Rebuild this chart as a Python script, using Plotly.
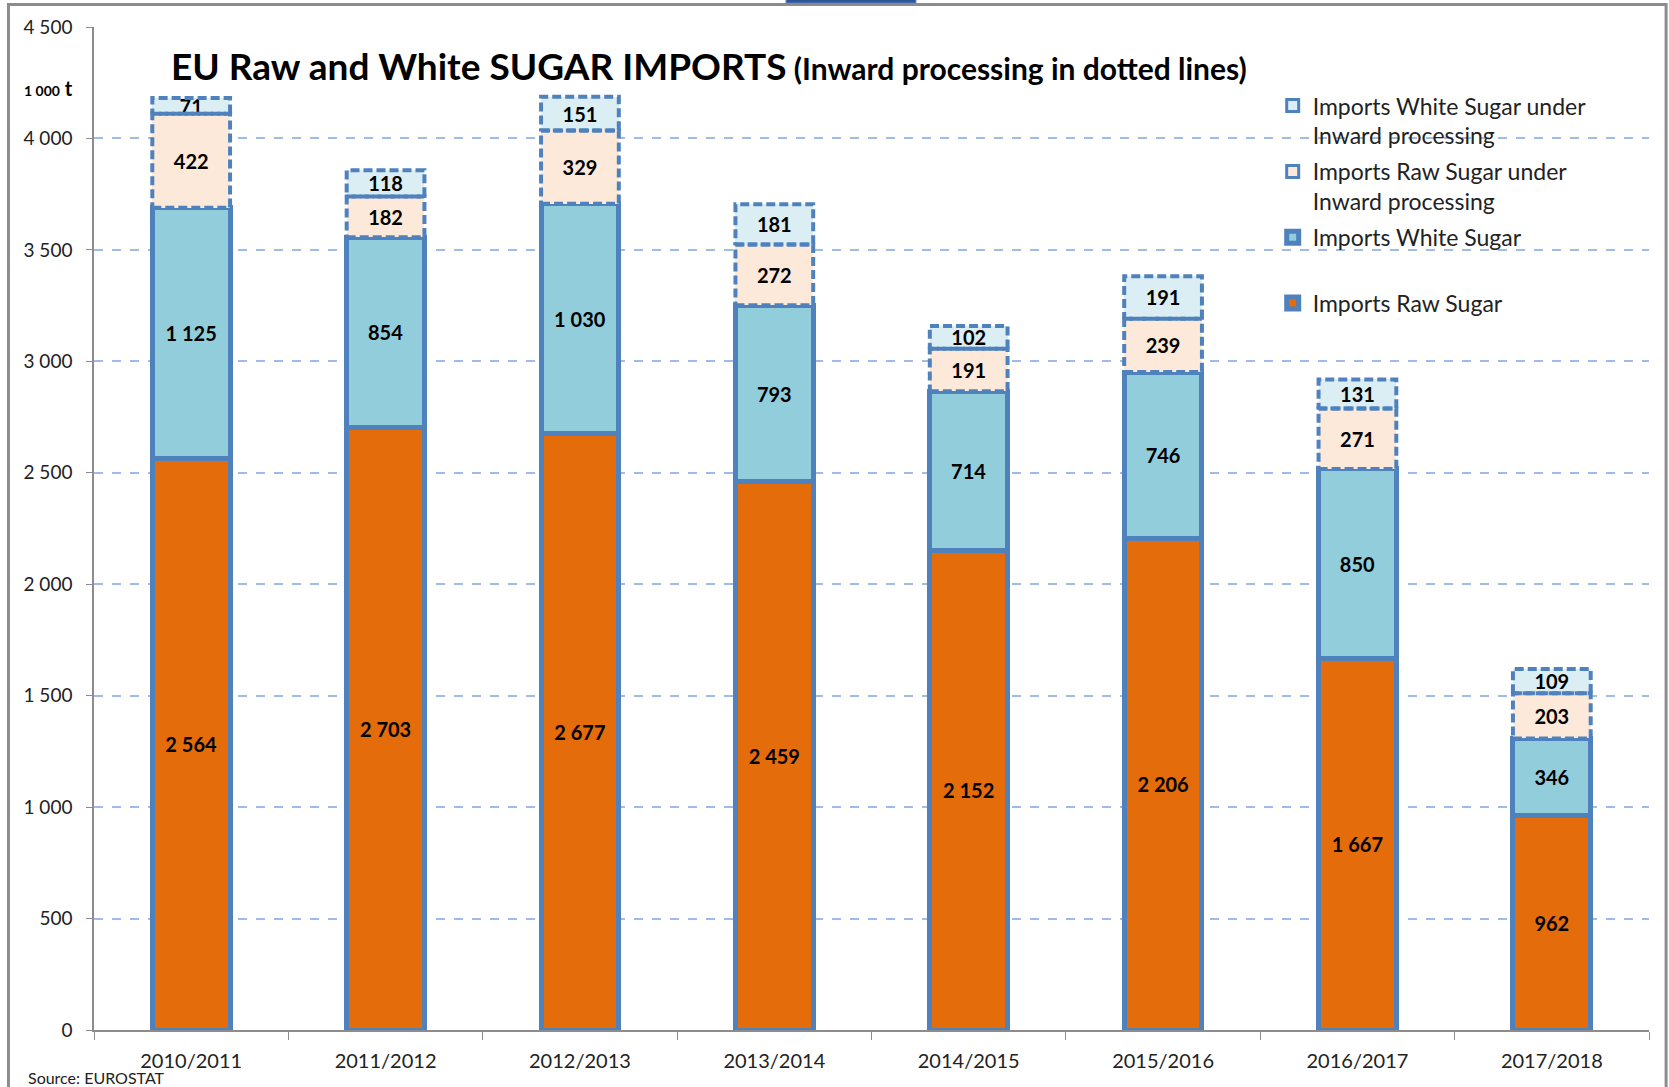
import plotly.graph_objects as go

# Marketing years and import volumes (1 000 t).
years = ["2010/2011", "2011/2012", "2012/2013", "2013/2014",
         "2014/2015", "2015/2016", "2016/2017", "2017/2018"]
raw_sugar = [2564, 2703, 2677, 2459, 2152, 2206, 1667, 962]
white_sugar = [1125, 854, 1030, 793, 714, 746, 850, 346]
raw_inward = [422, 182, 329, 272, 191, 239, 271, 203]
white_inward = [71, 118, 151, 181, 102, 191, 131, 109]

y_ticks = [0, 500, 1000, 1500, 2000, 2500, 3000, 3500, 4000, 4500]

_FONT = "Lato, 'Open Sans', sans-serif"
_BORDER = "#4F81BD"
_ORANGE = "#E46C0A"
_LIGHT_BLUE = "#92CDDC"
_PEACH = "#FDE9D9"
_PALE_BLUE = "#DAEEF3"
_BAR_W = 0.40

xs = list(range(len(years)))
fig = go.Figure()


def add_bar(name, values, base, fill, solid, rank):
    fig.add_trace(
        go.Bar(
            x=xs,
            y=values,
            base=base,
            width=_BAR_W,
            name=name,
            legendgroup=name,
            legendrank=rank,
            showlegend=solid,
            marker={
                "color": fill,
                "line": {"color": _BORDER, "width": 5 if solid else 0},
            },
            texttemplate="<b>%{y:,d}</b>",
            textposition="inside",
            insidetextanchor="middle",
            constraintext="none",
            textangle=0,
            textfont={"family": _FONT, "size": 20, "color": "black"},
        )
    )


base_white = raw_sugar
base_raw_ip = [r + w for r, w in zip(raw_sugar, white_sugar)]
base_white_ip = [b + p for b, p in zip(base_raw_ip, raw_inward)]

add_bar("Imports Raw Sugar", raw_sugar, [0] * len(xs), _ORANGE, True, 4)
add_bar("Imports White Sugar<br>&nbsp;", white_sugar, base_white, _LIGHT_BLUE, True, 3)
add_bar("raw_ip", raw_inward, base_raw_ip, _PEACH, False, 10)
add_bar("white_ip", white_inward, base_white_ip, _PALE_BLUE, False, 10)

# Dashed outlines for the inward-processing segments (bar lines can't dash).
rx, ry = [], []
for i, b0, v0, b1, v1 in zip(xs, base_raw_ip, raw_inward, base_white_ip, white_inward):
    for lo, hi in ((b0, b0 + v0), (b1, b1 + v1)):
        x0, x1 = i - _BAR_W / 2, i + _BAR_W / 2
        rx += [x0, x1, x1, x0, x0, None]
        ry += [lo, lo, hi, hi, lo, None]
fig.add_trace(
    go.Scatter(
        x=rx, y=ry, mode="lines",
        line={"color": _BORDER, "width": 4, "dash": "9px,4px"},
        showlegend=False, hoverinfo="skip",
    )
)

# Legend-only entries for the dashed series, so their swatch gets a border.
for name, fill, rank in (("Imports Raw Sugar under<br>Inward processing", _PEACH, 2),
                         ("Imports White Sugar under<br>Inward processing", _PALE_BLUE, 1)):
    fig.add_trace(
        go.Bar(x=[None], y=[None], name=name, legendgroup=name, legendrank=rank,
               marker={"color": fill, "line": {"color": _BORDER, "width": 3}})
    )

fig.add_annotation(
    xref="paper", yref="paper", x=0.048, y=0.962, xanchor="left", yanchor="middle",
    text="<b>EU Raw and White SUGAR IMPORTS</b>"
         "<b><span style='font-size:30px'> (Inward processing in dotted lines)</span></b>",
    showarrow=False, font={"family": _FONT, "size": 37, "color": "black"},
)
fig.add_annotation(
    xref="paper", yref="paper", x=-0.029, y=0.939, xanchor="center", yanchor="middle",
    text="<b><span style='font-size:14px'>1 000</span> t</b>",
    showarrow=False, font={"family": _FONT, "size": 20, "color": "black"},
)
fig.add_annotation(
    xref="paper", yref="paper", x=-0.044, y=-0.047, xanchor="left", yanchor="middle",
    text="Source: EUROSTAT",
    showarrow=False, font={"family": _FONT, "size": 16, "color": "#222"},
)

# Outer chart frame, plus the sliver of a blue box cut off at the top edge.
fig.add_shape(
    type="rect", xref="paper", yref="paper",
    x0=-0.055, x1=1.011, y0=-0.2, y1=1.0225,
    line={"color": "#8c8c8c", "width": 3}, layer="below",
)
fig.add_shape(
    type="rect", xref="paper", yref="paper",
    x0=0.445, x1=0.5286, y0=1.0238, y1=1.03,
    fillcolor="#2E5597", line={"color": "#6A8FCB", "width": 1},
)

fig.update_layout(
    barmode="stack",
    separators=". ",
    width=1669,
    height=1087,
    margin={"l": 94, "r": 20, "t": 27, "b": 57},
    paper_bgcolor="white",
    plot_bgcolor="white",
    font={"family": _FONT, "color": "#222"},
    showlegend=True,
    legend={
        "x": 0.758, "y": 0.943, "xanchor": "left", "yanchor": "top",
        "traceorder": "grouped",
        "tracegroupgap": 3,
        "valign": "top",
        "bgcolor": "rgba(0,0,0,0)",
        "font": {"family": _FONT, "size": 23, "color": "#222"},
        "itemwidth": 30,
    },
    xaxis={
        "range": [-0.5, len(years) - 0.5],
        "tickmode": "array",
        "tickvals": xs,
        "ticktext": years,
        "ticks": "",
        "ticklabelstandoff": 12,
        "showgrid": False,
        "showline": True,
        "linecolor": "#8c8c8c",
        "linewidth": 1.5,
        "tickfont": {"family": _FONT, "size": 20, "color": "#222"},
        "minor": {
            "tickmode": "array",
            "tickvals": [i - 0.5 for i in range(len(years) + 1)],
            "ticks": "outside",
            "ticklen": 8,
            "tickcolor": "#8c8c8c",
            "showgrid": False,
        },
    },
    yaxis={
        "range": [0, 4500],
        "tickmode": "array",
        "tickvals": y_ticks,
        "tickformat": ",d",
        "ticks": "outside",
        "ticklen": 6,
        "tickcolor": "#8c8c8c",
        "ticklabelstandoff": 10,
        "showline": True,
        "linecolor": "#8c8c8c",
        "linewidth": 1.5,
        "showgrid": True,
        "gridcolor": "#9FBCE6",
        "gridwidth": 1.5,
        "griddash": "dash",
        "zeroline": False,
        "tickfont": {"family": _FONT, "size": 19, "color": "#222"},
    },
)

fig.write_html(
    "out.html",
    config={"displayModeBar": False},
    post_script="document.body.style.margin = '0';",
)
